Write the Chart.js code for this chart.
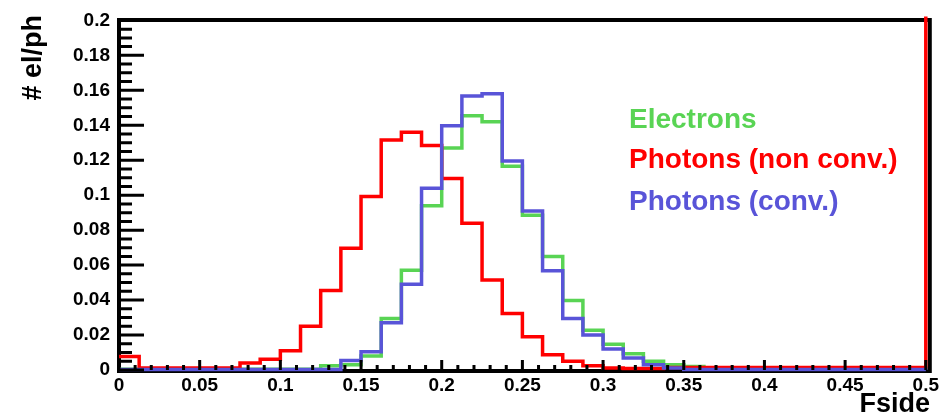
<!DOCTYPE html>
<html>
<head>
<meta charset="utf-8">
<script src="https://cdn.jsdelivr.net/npm/chart.js@4.4.1/dist/chart.umd.min.js"></script>
<style>
  html, body { margin:0; padding:0; background:#fff; }
  #wrap { width:943px; height:417px; position:relative; }
</style>
</head>
<body>
<div id="wrap"><canvas id="fside"></canvas></div>
<script>
// 40 bins of 0.0125 from 0 to 0.5
const binWidth = 0.0125;
const electrons = [
  0.0005,0.0005,0.0005,0.0005,0.0005,0.0005,0.0005,0.0005,0.0005,0.0005,
  0.0025,0.003,0.008,0.0295,0.057,0.094,0.127,0.1454,0.142,0.1166,
  0.0885,0.065,0.0398,0.0228,0.0148,0.0093,0.005,0.003,0.002,0.0008,
  0.0008,0.0008,0.0008,0.0008,0.0008,0.0008,0.0008,0.0008,0.0008,0.0008
];
const photonsNonConv = [
  0.0077,0.0012,0.0012,0.0012,0.0012,0.0012,0.004,0.0062,0.011,0.025,
  0.0455,0.0696,0.0992,0.1316,0.136,0.1284,0.1096,0.084,0.0515,0.0323,
  0.019,0.0087,0.005,0.0025,0.0012,0.0008,0.0008,0.0015,0.0015,0.0015,
  0.0015,0.0015,0.0015,0.0015,0.0015,0.0015,0.0015,0.0015,0.0015,0.0015
];
const photonsConv = [
  0.0003,0.0003,0.0003,0.0003,0.0003,0.0003,0.0003,0.0003,0.0003,0.0003,
  0.0003,0.0055,0.0105,0.027,0.049,0.104,0.1397,0.1567,0.158,0.1196,
  0.091,0.0568,0.0295,0.02,0.012,0.0068,0.003,0.0012,0.0003,0.0003,
  0.0003,0.0003,0.0003,0.0003,0.0003,0.0003,0.0003,0.0003,0.0003,0.0003
];
// content of the bin right after 0.5 (electrons, non conv, conv)
const overflow = [0, 0.3, 0];
const seriesNames = ["Electrons", "Photons (non conv.)", "Photons (conv.)"];
const seriesColors = ["#59d454", "#ff0000", "#5954d8"];
const xTicks = [0, 0.05, 0.1, 0.15, 0.2, 0.25, 0.3, 0.35, 0.4, 0.45, 0.5];
const yTicks = [0, 0.02, 0.04, 0.06, 0.08, 0.1, 0.12, 0.14, 0.16, 0.18, 0.2];

function toSteps(vals, over){
  const pts = vals.map((v,i) => ({ x: i*binWidth, y: v }));
  pts.push({ x: vals.length*binWidth, y: over });
  return pts;
}

const allSeries = [electrons, photonsNonConv, photonsConv];
const datasets = allSeries.map((vals,i) => ({
  label: seriesNames[i],
  data: toSteps(vals, overflow[i]),
  borderColor: seriesColors[i],
  borderWidth: 3.5,
  stepped: "before",
  pointRadius: 0,
  fill: false,
  clip: 4,
  order: 3 - i
}));

// frame (under the histograms) and inner ticks (over them)
const rootFrame = {
  id: "rootFrame",
  beforeDatasetsDraw(chart){
    const {ctx, chartArea:a} = chart;
    ctx.save();
    ctx.strokeStyle = "#000";
    ctx.lineWidth = 4;
    ctx.beginPath();
    ctx.moveTo(a.left, a.top - 0.5);
    ctx.lineTo(a.right + 4, a.top - 0.5);
    ctx.lineTo(a.right + 4, a.bottom + 1);
    ctx.lineTo(a.left, a.bottom + 1);
    ctx.closePath();
    ctx.stroke();
    ctx.restore();
  },
  afterDatasetsDraw(chart){
    const {ctx, chartArea:a, scales} = chart;
    ctx.save();
    ctx.strokeStyle = "#000";
    ctx.lineWidth = 3;
    ctx.beginPath();
    for(let k=0;k<=40;k++){
      const y = scales.y.getPixelForValue(k*0.005);
      const len = k%4===0 ? 25 : 13;
      ctx.moveTo(a.left, y); ctx.lineTo(a.left + len, y);
    }
    ctx.stroke();
    ctx.lineWidth = 3;
    ctx.beginPath();
    for(let k=0;k<=50;k++){
      const x = scales.x.getPixelForValue(k*0.01);
      const len = k%5===0 ? 10 : 5;
      ctx.moveTo(x, a.bottom); ctx.lineTo(x, a.bottom - len);
    }
    ctx.stroke();

    // axis titles
    ctx.fillStyle = "#000";
    ctx.font = "bold 27px 'Liberation Sans', Arial, sans-serif";
    ctx.textAlign = "right";
    ctx.textBaseline = "alphabetic";
    ctx.fillText("Fside", 930, 412);
    ctx.translate(41, 15);
    ctx.rotate(-Math.PI/2);
    ctx.fillText("# el/ph", 0, 0);
    ctx.restore();

    // legend texts
    ctx.save();
    ctx.font = "bold 28px 'Liberation Sans', Arial, sans-serif";
    ctx.textAlign = "left";
    ctx.textBaseline = "alphabetic";
    const baselines = [128, 168, 210];
    seriesNames.forEach((n,i) => {
      ctx.fillStyle = seriesColors[i];
      ctx.fillText(n, 629, baselines[i]);
    });
    ctx.restore();
  }
};

const fmt = v => String(+(+v).toFixed(3));
const tickFont = { family:"'Liberation Sans', Arial, sans-serif", size:19, weight:"bold" };

new Chart(document.getElementById("fside"), {
  type: "line",
  data: { datasets },
  options: {
    responsive: true,
    maintainAspectRatio: false,
    animation: false,
    devicePixelRatio: 1,
    layout: { padding: { top: 17, right: 13, left: 0, bottom: 0 } },
    plugins: { legend: { display:false }, tooltip: { enabled:false } },
    scales: {
      x: {
        type: "linear", min: 0, max: 0.5,
        grid: { display:false, drawTicks:false },
        border: { display:false },
        afterBuildTicks: s => { s.ticks = xTicks.map(v => ({ value: v })); },
        afterFit: s => { s.height = 47; },
        ticks: { autoSkip:false, maxRotation:0, padding:4, color:"#000", font: tickFont, callback: fmt }
      },
      y: {
        min: 0, max: 0.2,
        grid: { display:false, drawTicks:false },
        border: { display:false },
        afterBuildTicks: s => { s.ticks = yTicks.map(v => ({ value: v })); },
        afterFit: s => { s.width = 119; },
        ticks: { padding:9, color:"#000", font: tickFont, callback: fmt }
      }
    }
  },
  plugins: [rootFrame]
});
</script>
</body>
</html>
